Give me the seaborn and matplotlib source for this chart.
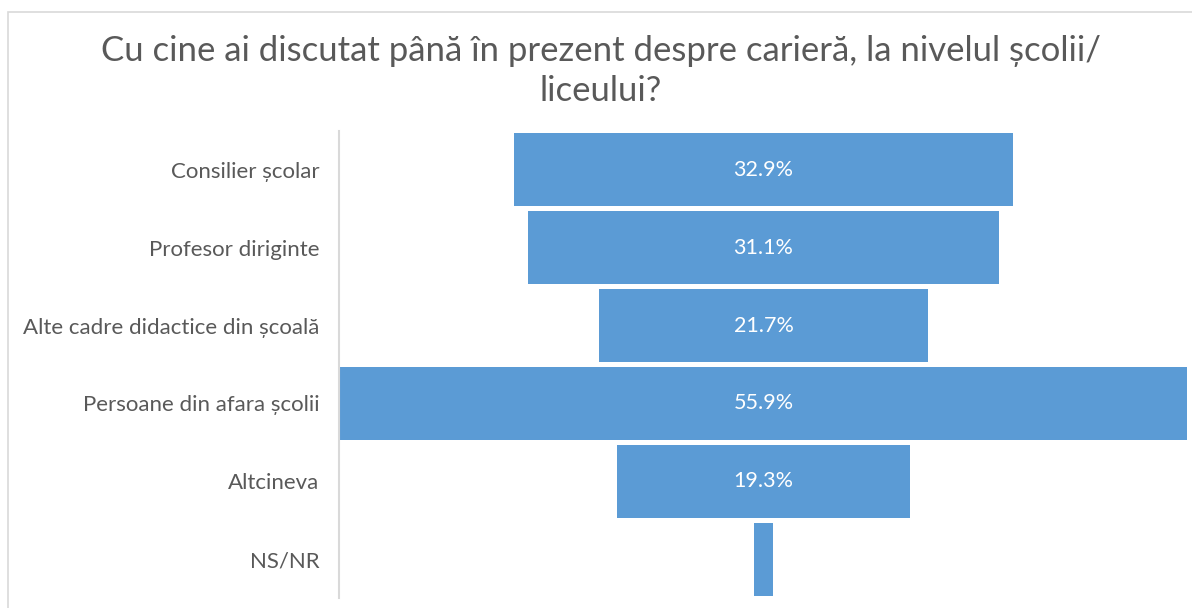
import matplotlib
matplotlib.use("Agg")
import matplotlib.pyplot as plt
import seaborn as sns
import pandas as pd
from matplotlib.patches import Rectangle

categories = ["Consilier școlar", "Profesor diriginte", "Alte cadre didactice din școală",
              "Persoane din afara școlii", "Altcineva", "NS/NR"]
values = [32.9, 31.1, 21.7, 55.9, 19.3, 1.2]
value_labels = ["32.9%", "31.1%", "21.7%", "55.9%", "19.3%", ""]

title = "Cu cine ai discutat până în prezent despre carieră, la nivelul școlii/\nliceului?"

sns.set_theme(style="white")
plt.rcParams["font.family"] = ["Lato", "DejaVu Sans"]

df = pd.DataFrame({"cat": categories, "val": values})

fig = plt.figure(figsize=(11.92, 6.08), dpi=100)
ax = fig.add_axes([339 / 1192, 1 - 598 / 608, 849 / 1192, 467 / 608])

sns.barplot(data=df, x="val", y="cat", orient="h", color="#5B9BD5",
            saturation=1, width=0.94, ax=ax)

# centre each bar on zero to get the funnel shape
for p in ax.patches:
    w = p.get_width()
    p.set_x(-w / 2)
    p.set_edgecolor("none")

for i, lab in enumerate(value_labels):
    if lab:
        ax.text(0, i, lab, ha="center", va="center", color="white", fontsize=15.5)

ax.set_xlim(-28, 28)
ax.set_ylim(5.5, -0.5)
ax.set_xlabel("")
ax.set_ylabel("")
ax.set_xticks([])
ax.tick_params(axis="y", length=0, pad=14, labelsize=16, labelcolor="#595959")
for s in ["top", "right", "bottom"]:
    ax.spines[s].set_visible(False)
ax.spines["left"].set_color("#d9d9d9")
ax.spines["left"].set_linewidth(1.5)

# chart-area border (cropped on right/bottom in the reference)
fig.patches.append(Rectangle((8 / 1192, -0.1), 1.2, (1 - 12 / 608) + 0.1,
                             transform=fig.transFigure, fill=False,
                             edgecolor="#d9d9d9", linewidth=1.2))

fig.text(601 / 1192, 1 - 71 / 608, title, ha="center", va="center",
         fontsize=25, color="#595959", linespacing=1.3)

fig.savefig("out.png", dpi=100)
